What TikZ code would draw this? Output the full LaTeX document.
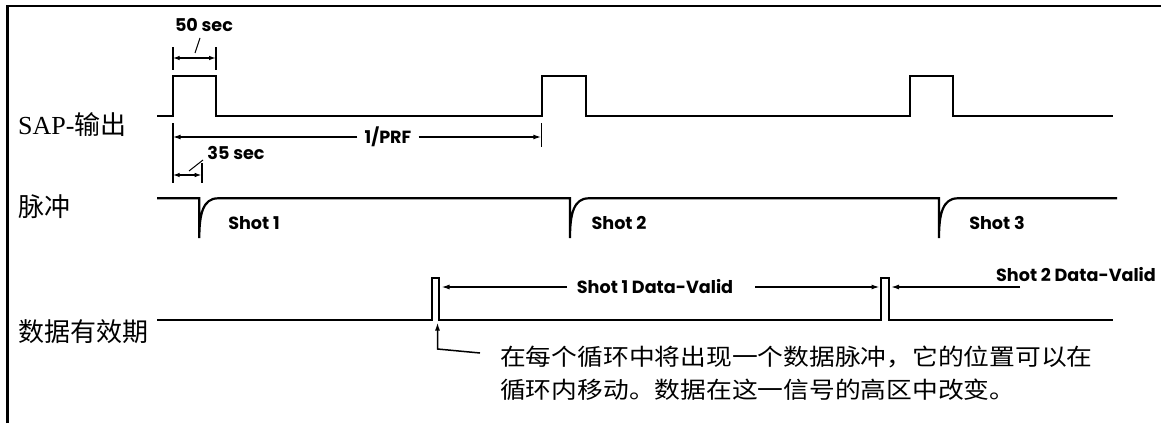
\documentclass[tikz,border=0pt]{standalone}
\usepackage{fontspec}
\setmainfont{Liberation Serif}
\newfontfamily\cjk{Noto Sans CJK SC}
\newfontfamily\cjkw[FakeStretch=1.12]{Noto Sans CJK SC}
\newfontfamily\shotf{Poppins}
\usetikzlibrary{arrows.meta}
\tikzset{
  sig/.style={line width=2.2pt, line join=miter},
  frameline/.style={line width=2.2pt},
  tick/.style={line width=1.6pt},
  dimarrow/.style={line width=1.4pt, -{Latex[length=8pt,width=5pt]}},
  dimboth/.style={line width=1.4pt, {Latex[length=7pt,width=4.6pt]}-{Latex[length=7pt,width=4.6pt]}},
  leader/.style={line width=1pt},
  shot/.style={font=\shotf\bfseries\fontsize{17.6}{19}\selectfont, inner sep=0pt},
  lab/.style={font=\fontsize{26}{28}\selectfont, anchor=west, inner sep=0pt},
  note/.style={font=\cjkw\fontsize{23}{33}\selectfont, anchor=west, align=left, inner sep=0pt},
}
\begin{document}
\begin{tikzpicture}[x=1pt,y=-1pt]
\useasboundingbox[fill=white] (0,0) rectangle (1161,423);
% frame
\draw[frameline] (7.5,423) -- (7.5,6) -- (1161,6);

% labels
\node[lab] (labSAP) at (18,125) {SAP-{\cjk 输出}};
\node[lab] (labPulse) at (18,207) {\cjk 脉冲};
\node[lab] (labData) at (18,332) {\cjk 数据有效期};

% SAP output signal
\draw[sig] (157,115.7) -- (172.7,115.7) -- (172.7,76.3) -- (216,76.3) -- (216,115.7)
  -- (542.3,115.7) -- (542.3,76.3) -- (585.7,76.3) -- (585.7,115.7)
  -- (910,115.7) -- (910,76.3) -- (953,76.3) -- (953,115.7) -- (1113,115.7);

% pulse signal
\draw[sig] (157,198.3) -- (199.3,198.3) -- (199.3,238)
  .. controls (199.3,214) and (203,198.3) .. (218,198.3)
  -- (570,198.3) -- (570,238)
  .. controls (570,214) and (573.7,198.3) .. (588.7,198.3)
  -- (939,198.3) -- (939,238)
  .. controls (939,214) and (942.7,198.3) .. (957.7,198.3)
  -- (1117,198.3);

% data-valid signal
\draw[sig] (157,320) -- (431.7,320) -- (431.7,278) -- (439.3,278) -- (439.3,320)
  -- (881,320) -- (881,278) -- (889,278) -- (889,320) -- (1113,320);

% 50 sec dimension
\draw[tick] (172.7,47) -- (172.7,70);
\draw[tick] (216,47) -- (216,70);
\coordinate (d50a) at (172.7,58);
\coordinate (d50b) at (216,58);
\draw[dimboth] (d50a) -- (d50b);
\node[shot] (t50) at (204,25) {50 sec};
\coordinate (l50a) at (200,38);
\coordinate (l50b) at (195,53);
\draw[leader] (l50a) -- (l50b);

% 1/PRF dimension
\draw[tick] (172.7,123) -- (172.7,183);
\draw[tick] (541.3,123) -- (541.3,147);
\node[shot, fill=white, inner xsep=7pt, inner ysep=2pt] (prf) at (388,137) {1/PRF};
\coordinate (prfL) at (172.7,137);
\coordinate (prfR) at (541.3,137);
\draw[dimarrow] (prf) -- (prfL);
\draw[dimarrow] (prf) -- (prfR);

% 35 sec dimension
\draw[tick] (201.7,163) -- (201.7,183);
\coordinate (d35a) at (172.7,175);
\coordinate (d35b) at (201.7,175);
\draw[dimboth] (d35a) -- (d35b);
\node[shot] (t35) at (236,153) {35 sec};
\coordinate (l35a) at (203,160);
\coordinate (l35b) at (189,171);
\draw[leader] (l35a) -- (l35b);

% shot labels
\node[shot] (s1) at (254,223) {Shot 1};
\node[shot] (s2) at (619,223) {Shot 2};
\node[shot] (s3) at (997,223) {Shot 3};

% data valid annotations
\node[shot] (dv1) at (655,287) {Shot 1 Data-Valid};
\coordinate (dv1a) at (567,287);
\coordinate (dv1L) at (441.5,287);
\coordinate (dv1b) at (755,287);
\coordinate (dv1R) at (879.5,287);
\draw[dimarrow] (dv1a) -- (dv1L);
\draw[dimarrow] (dv1b) -- (dv1R);
\node[shot] (dv2) at (1076,275) {Shot 2 Data-Valid};
\coordinate (dv2a) at (1020,287);
\coordinate (dv2L) at (891,287);
\draw[dimarrow] (dv2a) -- (dv2L);

% pointer to data pulse
\coordinate (pA) at (480,353);
\coordinate (pB) at (437.5,349);
\coordinate (pC) at (437.5,322.5);
\draw[line width=1.5pt, -{Latex[length=8pt,width=5pt]}] (pA) -- (pB) -- (pC);
\node[note] (note) at (500,373) {在每个循环中将出现一个数据脉冲，它的位置可以在\\循环内移动。数据在这一信号的高区中改变。};
\end{tikzpicture}
\end{document}
